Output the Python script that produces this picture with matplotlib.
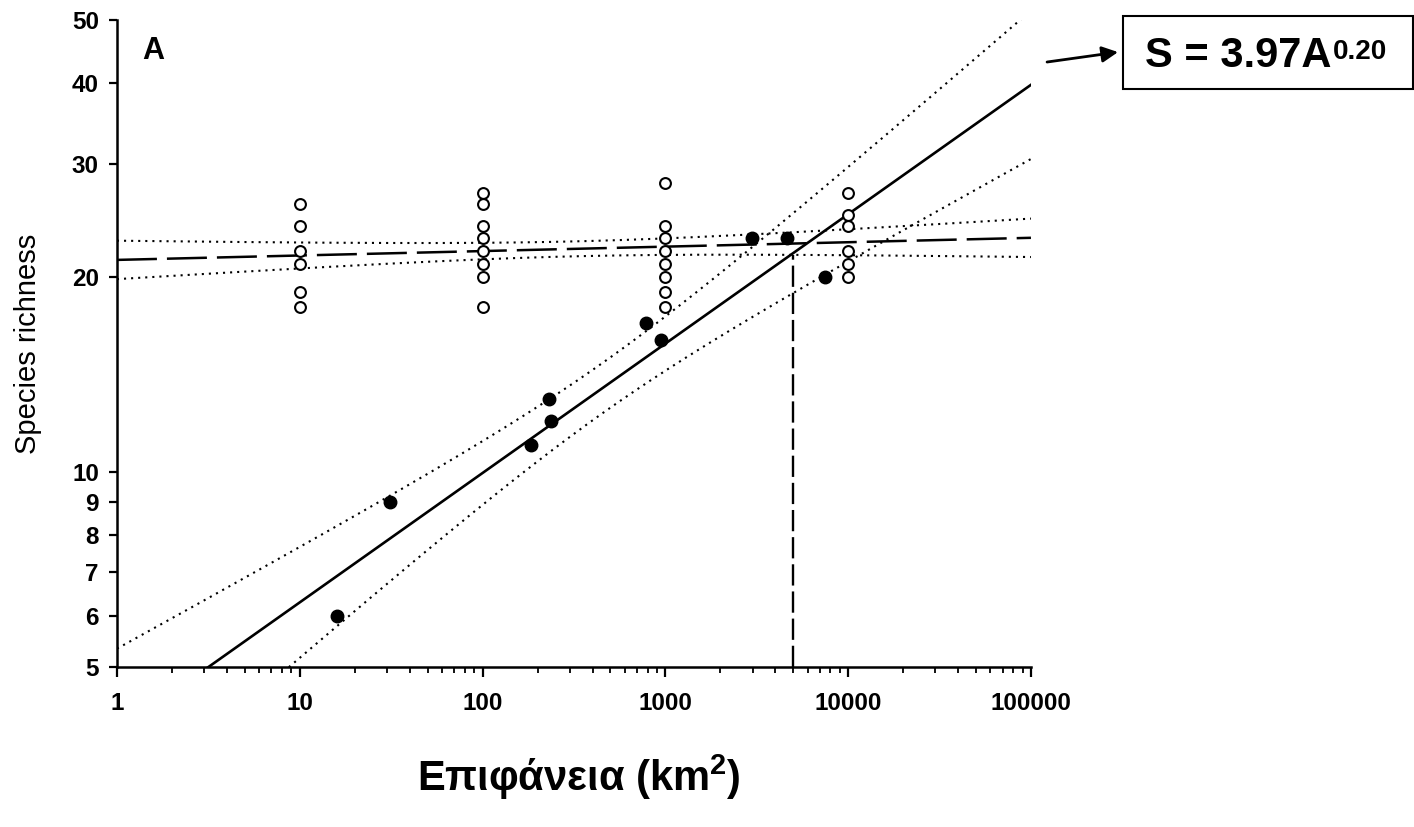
import numpy as np
import matplotlib
matplotlib.use("Agg")
import matplotlib.pyplot as plt
from matplotlib.patches import Rectangle
from matplotlib.ticker import LogLocator, NullFormatter, NullLocator

plt.rcParams["font.family"] = ["Liberation Sans", "DejaVu Sans"]
plt.rcParams["mathtext.fontset"] = "custom"
plt.rcParams["mathtext.rm"] = "Liberation Sans"
plt.rcParams["mathtext.bf"] = "Liberation Sans:bold"

# mainland samples (open circles) at fixed areas
open_area = np.array([10, 10, 10, 10, 10, 10,
                      100, 100, 100, 100, 100, 100, 100, 100,
                      1000, 1000, 1000, 1000, 1000, 1000, 1000, 1000,
                      10000, 10000, 10000, 10000, 10000, 10000])
open_rich = np.array([26, 24, 22, 21, 19, 18,
                      27, 26, 24, 23, 22, 21, 20, 18,
                      28, 24, 23, 22, 21, 20, 19, 18,
                      27, 25, 24, 22, 21, 20])

# islands (filled circles)
island_area = np.array([16, 31, 184, 231, 237, 780, 950, 2970, 4650, 7470])
island_rich = np.array([6, 9, 11, 13, 12, 17, 16, 23, 23, 20])

# power law S = c * A^z for the islands
fit_c = 3.97
fit_z = 0.20
threshold_area = 5000

x_ticks = [1, 10, 100, 1000, 10000, 100000]
x_labels = ["1", "10", "100", "1000", "10000", "100000"]
y_ticks = [5, 6, 7, 8, 9, 10, 20, 30, 40, 50]


def band(area, rich, icpt, slope, grid, k):
    """Confidence band (in log-log space) around a straight line."""
    x = np.log10(area)
    y = np.log10(rich)
    resid = y - (icpt + slope * x)
    s = np.sqrt(np.sum(resid ** 2) / (len(x) - 2))
    gx = np.log10(grid)
    half = k * s * np.sqrt(1.0 / len(x) + (gx - x.mean()) ** 2 / np.sum((x - x.mean()) ** 2))
    centre = icpt + slope * gx
    return 10 ** centre, 10 ** (centre - half), 10 ** (centre + half)


grid = np.logspace(0, 5, 400)

# islands: line from the stated equation, 95% band (t = 2.306, df = 8)
isl_mid, isl_lo, isl_hi = band(island_area, island_rich, np.log10(fit_c), fit_z, grid, 2.306)

# mainland: ordinary log-log regression, +-1 s.e. band
op_slope, op_icpt = np.polyfit(np.log10(open_area), np.log10(open_rich), 1)
op_mid, op_lo, op_hi = band(open_area, open_rich, op_icpt, op_slope, grid, 1.08)
_, thr_lo, _ = band(open_area, open_rich, op_icpt, op_slope, np.array([threshold_area]), 1.08)

fig = plt.figure(figsize=(14.14, 8.27), dpi=100)
ax = fig.add_axes([0.0827, 0.1935, 0.6464, 0.7823])
ax.set_xscale("log")
ax.set_yscale("log")
ax.set_xlim(1, 1e5)
ax.set_ylim(5, 50)

dot = (0, (1, 2.4))
ax.plot(grid, isl_mid, "-", color="black", lw=1.9, zorder=3)
ax.plot(grid, isl_lo, color="black", lw=1.5, ls=dot, zorder=2)
ax.plot(grid, isl_hi, color="black", lw=1.5, ls=dot, zorder=2)
ax.plot(grid, op_mid, color="black", lw=1.8, ls=(0, (16, 4)), zorder=2)
ax.plot(grid, op_lo, color="black", lw=1.5, ls=dot, zorder=2)
ax.plot(grid, op_hi, color="black", lw=1.5, ls=dot, zorder=2)
ax.plot([threshold_area, threshold_area], [5, thr_lo[0]], color="black",
        lw=1.7, ls=(0, (9, 2.5)), zorder=2, clip_on=False)

ax.plot(open_area, open_rich, "o", ms=7.8, mfc="white", mec="black", mew=1.5, zorder=4)
ax.plot(island_area, island_rich, "o", ms=9, color="black", zorder=5)

for side in ["top", "right"]:
    ax.spines[side].set_visible(False)
for side in ["left", "bottom"]:
    ax.spines[side].set_linewidth(1.8)

ax.set_xticks(x_ticks, labels=x_labels, fontsize=17.5, fontweight="bold")
ax.xaxis.set_minor_locator(LogLocator(base=10, subs=np.arange(2, 10)))
ax.xaxis.set_minor_formatter(NullFormatter())
ax.set_yticks(y_ticks, labels=[str(v) for v in y_ticks], fontsize=17.5, fontweight="bold")
ax.yaxis.set_minor_locator(NullLocator())
ax.yaxis.set_minor_formatter(NullFormatter())
ax.tick_params(axis="x", which="major", length=7, width=1.6, pad=11)
ax.tick_params(axis="x", which="minor", length=4.5, width=1.3)
ax.tick_params(axis="y", which="major", length=6, width=1.6, pad=7)

ax.set_ylabel("Species richness", fontsize=21)
ax.yaxis.set_label_coords(-0.082, 0.5)
ax.set_xlabel("Επιφάνεια (km$^{\\mathbf{2}}$)", fontsize=30, fontweight="bold")
ax.xaxis.set_label_coords(0.505, -0.132)

ax.text(0.028, 0.975, "A", transform=ax.transAxes, fontsize=22, fontweight="bold",
        va="top", ha="left")

# equation box with arrow pointing at the fitted line
fig.add_artist(Rectangle((0.794, 0.892), 0.205, 0.089, transform=fig.transFigure,
                         fill=False, lw=1.5, ec="black"))
eq = fig.text(0.8095, 0.919, "S = %.2fA" % fit_c, fontsize=30, fontweight="bold",
              va="baseline", ha="left")
ax.annotate("%.2f" % fit_z, xy=(1, 1), xycoords=eq, xytext=(1, -2),
            textcoords="offset points", fontsize=20, fontweight="bold",
            va="top", ha="left", annotation_clip=False)
ax.annotate("", xy=(0.7907, 0.937), xycoords="figure fraction",
            xytext=(0.7405, 0.925), textcoords="figure fraction",
            arrowprops=dict(arrowstyle="-|>", color="black", lw=2,
                            mutation_scale=24, shrinkA=0, shrinkB=0),
            annotation_clip=False)

fig.savefig("out.png", dpi=100)
